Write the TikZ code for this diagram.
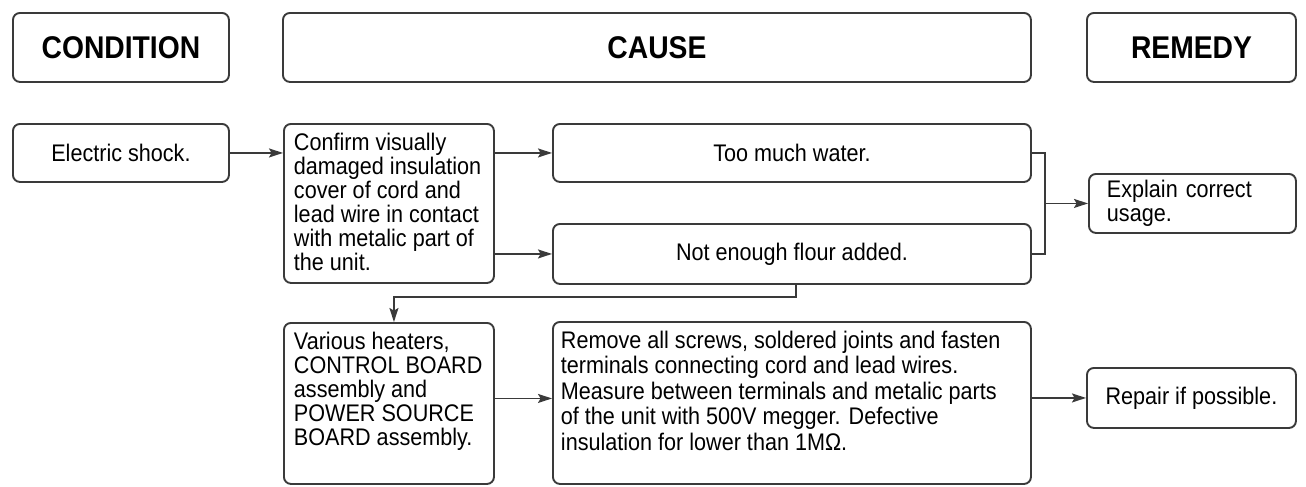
\documentclass[tikz,border=0pt]{standalone}
\usepackage{fontspec}
\setmainfont{Liberation Sans}[FakeStretch=0.9]
\usepackage{xcolor}
\usepackage{tikz}
\usetikzlibrary{positioning,arrows.meta,calc}
\definecolor{ink}{HTML}{3A3A3A}
\newcommand{\headfont}{\fontsize{15.7}{17}\selectfont\bfseries}
\newcommand{\cellfont}{\fontsize{12}{12}\selectfont}
\newcommand{\topcell}[3]{\makebox[#1][l]{\parbox[c][#2][t]{\dimexpr#1+12pt\relax}{\raggedright #3}}}

\begin{document}
\begin{tikzpicture}[
  x=0.5pt, y=-0.5pt,
  head/.style={draw=ink, line width=0.95pt, rounded corners=3.5pt, anchor=north west, inner sep=0pt, minimum height=34.5pt, font=\headfont},
  cell/.style={draw=ink, line width=0.95pt, rounded corners=3.5pt, anchor=north west, inner sep=0pt, font=\cellfont},
  arr/.style={-{Stealth[length=7pt, width=4.5pt, inset=1.3pt]}, line width=0.95pt, ink}]
\useasboundingbox (0,0) rectangle (1306,487);
% column headers
\node[head, minimum width=108pt] (cond) at (12,12) {CONDITION};
\node[head, minimum width=374pt] (cause) at (282,12) {CAUSE};
\node[head, minimum width=104.5pt] (remedy) at (1086,12) {REMEDY};
% first row
\node[cell, minimum width=108pt, minimum height=29pt] (shock) at (12,123) {Electric shock.};
\node[cell, inner xsep=5pt, inner ysep=4.5pt] (confirm) at (283,123) {\topcell{95pt}{70.5pt}{Confirm visually\\damaged insulation\\cover of cord and\\lead wire in contact\\with metalic part of\\the unit.}};
\node[cell, minimum width=239pt, minimum height=29pt] (water) at (552,123) {Too much water.};
\node[cell, minimum width=239pt, minimum height=30pt] (flour) at (552,223) {Not enough flour added.};
\node[cell, inner xsep=9pt, text width=85.5pt, align=left, minimum height=29.5pt] (explain) at (1088,173) {Explain correct\\usage.};
% second row
\node[cell, inner xsep=5pt, inner ysep=4.5pt] (various) at (283,322) {\topcell{95pt}{71.5pt}{Various heaters,\\CONTROL BOARD\\assembly and\\POWER SOURCE\\BOARD assembly.}};
\node[cell, inner xsep=4pt, inner ysep=4.5pt, font=\fontsize{12}{12.75}\selectfont] (remove) at (552,321) {\topcell{231pt}{72pt}{Remove all screws, soldered joints and fasten\\terminals connecting cord and lead wires.\\Measure between terminals and metalic parts\\of the unit with 500V megger. Defective\\insulation for lower than 1MΩ.}};
\node[cell, minimum width=104.5pt, minimum height=30pt] (repair) at (1086,367) {Repair if possible.};
% connectors
\draw[arr] (shock.east) -- (shock.east -| confirm.west);
\draw[arr] (confirm.east |- water.west) -- (water.west);
\draw[arr] (confirm.east |- flour.west) -- (flour.west);
\draw[line width=0.95pt, ink] (water.east) -- ++(13,0) |- (flour.east);
\coordinate (join) at ($(water.east)!0.5!(flour.east)+(13,0)$);
\draw[arr] (join) -- (join -| explain.west);
\draw[arr] ([xshift=2pt]flour.south) -- ++(0,12) -| ([xshift=2.5pt]various.north);
\coordinate (vr) at ([yshift=2.5pt]various.east);
\draw[arr] (vr) -- (vr -| remove.west);
\draw[arr] (remove.east |- repair.west) -- (repair.west);
\end{tikzpicture}
\end{document}
